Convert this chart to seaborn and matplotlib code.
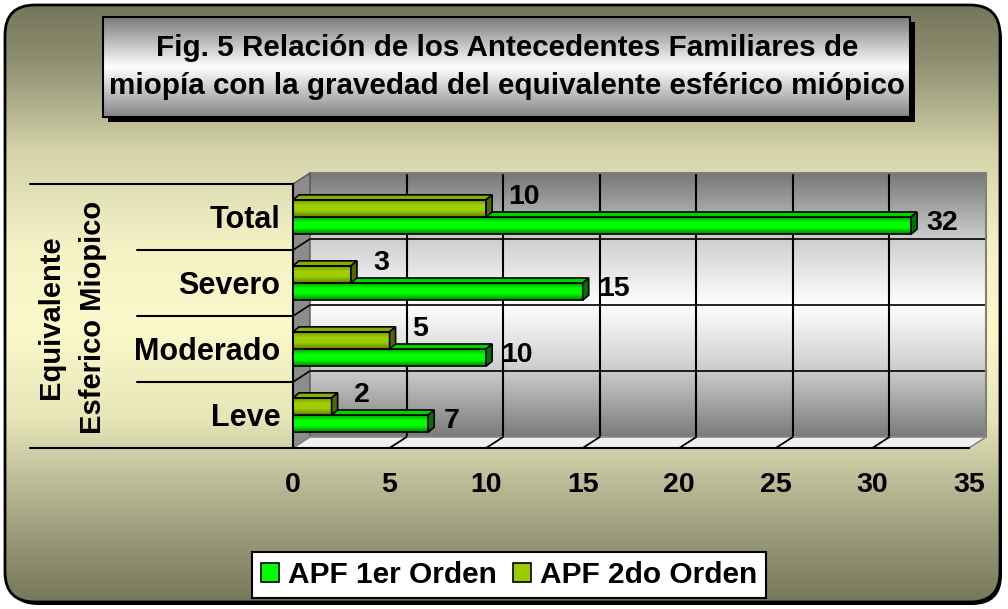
import numpy as np
import pandas as pd
import matplotlib
matplotlib.use('Agg')
import matplotlib.pyplot as plt
import seaborn as sns
from matplotlib.patches import FancyBboxPatch, Rectangle, Polygon, Patch
from matplotlib.colors import LinearSegmentedColormap, to_rgba
from matplotlib.transforms import blended_transform_factory

# data
categories = ['Total', 'Severo', 'Moderado', 'Leve']
apf_1er = [32, 15, 10, 7]
apf_2do = [10, 3, 5, 2]
series = ['APF 1er Orden', 'APF 2do Orden']
x_ticks = [0, 5, 10, 15, 20, 25, 30, 35]

title = ('Fig. 5 Relación de los Antecedentes Familiares de\n'
         'miopía con la gravedad del equivalente esférico miópico')
ylabel = 'Equivalente\nEsferico Miopico'

GREEN = '#00ff00'
OLIVE = '#99cc00'

sns.set_style('white')
plt.rcParams['font.family'] = ['Liberation Sans', 'DejaVu Sans']
plt.rcParams['font.weight'] = 'bold'
for k in ['text.color', 'axes.labelcolor', 'xtick.color', 'ytick.color']:
    plt.rcParams[k] = 'black'

W, H = 1008, 609
fig = plt.figure(figsize=(W / 100, H / 100), dpi=100)
fig.patch.set_facecolor('white')


def frac(left, top, right, bottom):
    return [left / W, (H - bottom) / H, (right - left) / W, (bottom - top) / H]


def cmap(stops):
    return LinearSegmentedColormap.from_list('g', stops)


col = np.linspace(0, 1, 256).reshape(-1, 1)

# ---- figure background (rounded, olive -> pale yellow -> olive)
bg = fig.add_axes([0, 0, 1, 1], zorder=-10)
bg.set_xlim(0, W)
bg.set_ylim(H, 0)
bg.axis('off')
bg.add_patch(FancyBboxPatch((8, 9), 994, 596, boxstyle='round,pad=0,rounding_size=30',
                            fc='black', ec='none', zorder=0))
frame = FancyBboxPatch((5, 5), 995, 597, boxstyle='round,pad=0,rounding_size=30',
                       fc='none', ec='black', lw=2, zorder=3)
bg.add_patch(frame)
bg_cmap = cmap([(0.0, '#737357'), (60 / H, '#8f8f72'), (150 / H, '#d4d3aa'),
                (250 / H, '#f5f3c6'), (330 / H, '#fbf9ca'), (420 / H, '#e6e5b8'),
                (480 / H, '#bdbd99'), (540 / H, '#999979'), (1.0, '#737356')])
im = bg.imshow(col, cmap=bg_cmap, extent=(0, W, H, 0), aspect='auto', zorder=1)
im.set_clip_path(frame)

# title box
bg.add_patch(Rectangle((108, 22), 807, 100, fc='black', ec='none', zorder=4))
tbox = Rectangle((103, 17), 807, 100, fc='none', ec='black', lw=1.5, zorder=6)
bg.add_patch(tbox)
im = bg.imshow(col, cmap=cmap([(0, '#7b7b7b'), (0.5, '#ffffff'), (1, '#858585')]),
               extent=(103, 910, 117, 17), aspect='auto', zorder=5)
im.set_clip_path(tbox)
bg.text(507, 67, title, ha='center', va='center', fontsize=21.3, weight='bold',
        linespacing=1.5, zorder=7)

# ---- back wall
wall = fig.add_axes(frac(310, 173, 986, 437), zorder=1)
wall.set_xlim(0, 35)
wall.set_ylim(3.5, -0.5)
wall.imshow(col, cmap=cmap([(0, '#777777'), (0.25, '#cfcfcf'), (0.5, '#ffffff'),
                            (0.75, '#cccccc'), (1, '#7a7a7a')]),
            extent=(0, 35, 3.5, -0.5), aspect='auto', zorder=0)
wall.set_xlim(0, 35)
wall.set_ylim(3.5, -0.5)
for v in x_ticks[1:-1]:
    wall.axvline(v, color='black', lw=1.5, zorder=1)
for b in [0.5, 1.5, 2.5]:
    wall.axhline(b, color='black', lw=1.2, zorder=1)
wall.set_xticks([])
wall.set_yticks([])
for s in ['left', 'bottom']:
    wall.spines[s].set_visible(False)
for s in ['top', 'right']:
    wall.spines[s].set_color('#7f7f7f')
    wall.spines[s].set_linewidth(1.5)

# ---- front plane with the bars
ax = fig.add_axes(frac(293, 184, 969, 448), zorder=3)
ax.patch.set_alpha(0)

df = pd.DataFrame({
    'cat': categories * 2,
    'val': apf_1er + apf_2do,
    'serie': [series[0]] * len(categories) + [series[1]] * len(categories),
})
sns.barplot(data=df, x='val', y='cat', hue='serie', order=categories,
            hue_order=[series[1], series[0]], palette=[OLIVE, GREEN],
            orient='h', width=0.52, saturation=1, legend=False,
            edgecolor='black', linewidth=1.2, ax=ax)
bars = list(ax.patches)

ax.set_xlim(0, 35)
ax.set_ylim(3.5, -0.5)
ddx = 6 / (676 / 35)
ddy = 5 / (264 / 4)

styles = {
    'green': dict(grad=[(0, '#009000'), (0.35, '#00ff00'), (0.65, '#00ff00'), (1, '#008400')],
                  top='#00d400', side='#007400', z=2.0, dy=2, dx=11),
    'olive': dict(grad=[(0, '#6a8a00'), (0.35, '#a0d000'), (0.65, '#99cc00'), (1, '#5f7d00')],
                  top='#86ad00', side='#506a00', z=2.5, dy=8, dx=16),
}
green_rgba = to_rgba(GREEN)
for p in bars:
    kind = 'green' if np.allclose(p.get_facecolor()[:3], green_rgba[:3], atol=0.05) else 'olive'
    st = styles[kind]
    x0, y0, w, h = p.get_x(), p.get_y(), p.get_width(), p.get_height()
    x1 = x0 + w
    p.set_facecolor('none')
    p.set_zorder(st['z'] + 0.1)
    img = ax.imshow(col, cmap=cmap(st['grad']), extent=(x0, x1, y0 + h, y0),
                    aspect='auto', zorder=st['z'])
    img.set_clip_path(p)
    ax.add_patch(Polygon([(x0, y0), (x1, y0), (x1 + ddx, y0 - ddy), (x0 + ddx, y0 - ddy)],
                         closed=True, fc=st['top'], ec='black', lw=1.2, zorder=st['z'] + 0.2))
    ax.add_patch(Polygon([(x1, y0), (x1, y0 + h), (x1 + ddx, y0 + h - ddy), (x1 + ddx, y0 - ddy)],
                         closed=True, fc=st['side'], ec='black', lw=1.2, zorder=st['z'] + 0.2))
    ax.annotate(f'{w:.0f}', xy=(x1, y0 + h / 2), xytext=(st['dx'], st['dy']),
                textcoords='offset points', ha='left', va='center',
                fontsize=20.5, weight='bold', zorder=5)

ax.set_xlim(0, 35)
ax.set_ylim(3.5, -0.5)
ax.set_xticks(x_ticks)
ax.set_xlabel('')
ax.set_ylabel('')
for s in ['top', 'right']:
    ax.spines[s].set_visible(False)
for s in ['left', 'bottom']:
    ax.spines[s].set_color('black')
    ax.spines[s].set_linewidth(1.5)
ax.tick_params(axis='x', length=5, width=1.5, direction='out', pad=12, labelsize=20.5)
ax.tick_params(axis='y', length=0, pad=9, labelsize=22)
for t in ax.get_xticklabels() + ax.get_yticklabels():
    t.set_fontweight('bold')

# category separators on the left
bt = blended_transform_factory(ax.transAxes, ax.transData)
for b in [-0.5, 3.5]:
    ax.plot([(30 - 293) / 676, 0], [b, b], color='black', lw=1.5, transform=bt, clip_on=False)
for b in [0.5, 1.5, 2.5]:
    ax.plot([(137 - 293) / 676, 0], [b, b], color='black', lw=1.5, transform=bt, clip_on=False)

# ---- side wall and floor between front plane and back wall
ov = fig.add_axes([0, 0, 1, 1], zorder=2)
ov.set_xlim(0, W)
ov.set_ylim(H, 0)
ov.axis('off')


def px(a, x, y):
    dx, dy = a.transData.transform((x, y))
    return dx, H - dy


ov.add_patch(Polygon([px(ax, 0, -0.5), px(wall, 0, -0.5), px(wall, 0, 3.5), px(ax, 0, 3.5)],
                     closed=True, fc='#8c8c8c', ec='#555555', lw=1))
ov.add_patch(Polygon([px(ax, 0, 3.5), px(ax, 35, 3.5), px(wall, 35, 3.5), px(wall, 0, 3.5)],
                     closed=True, fc='#f0f0f0', ec='#8a8a8a', lw=1.2))
for v in x_ticks[1:-1]:
    (a1, b1), (a2, b2) = px(ax, v, 3.5), px(wall, v, 3.5)
    ov.plot([a1, a2], [b1, b2], color='black', lw=1.3)
for b in [0.5, 1.5, 2.5]:
    (a1, b1), (a2, b2) = px(ax, 0, b), px(wall, 0, b)
    ov.plot([a1, a2], [b1, b2], color='black', lw=1.2)

# y label
fig.text(72 / W, 1 - 317 / H, ylabel, rotation=90, ha='center', va='center',
         fontsize=21, weight='bold', linespacing=1.6)

# legend
handles = [Patch(fc=GREEN, ec='black', lw=1.2, label=series[0]),
           Patch(fc=OLIVE, ec='black', lw=1.2, label=series[1])]
leg = ax.legend(handles=handles, loc='center', bbox_to_anchor=(509 / W, 1 - 575 / H),
                bbox_transform=fig.transFigure, ncol=2, frameon=True, fancybox=False,
                edgecolor='black', framealpha=1, fontsize=21.5, handlelength=0.6,
                handleheight=0.6, handletextpad=0.3, columnspacing=0.55,
                borderpad=0.3, borderaxespad=0)
leg.get_frame().set_linewidth(1.5)
for t in leg.get_texts():
    t.set_fontweight('bold')

fig.savefig('out.png', dpi=100, facecolor='white')
